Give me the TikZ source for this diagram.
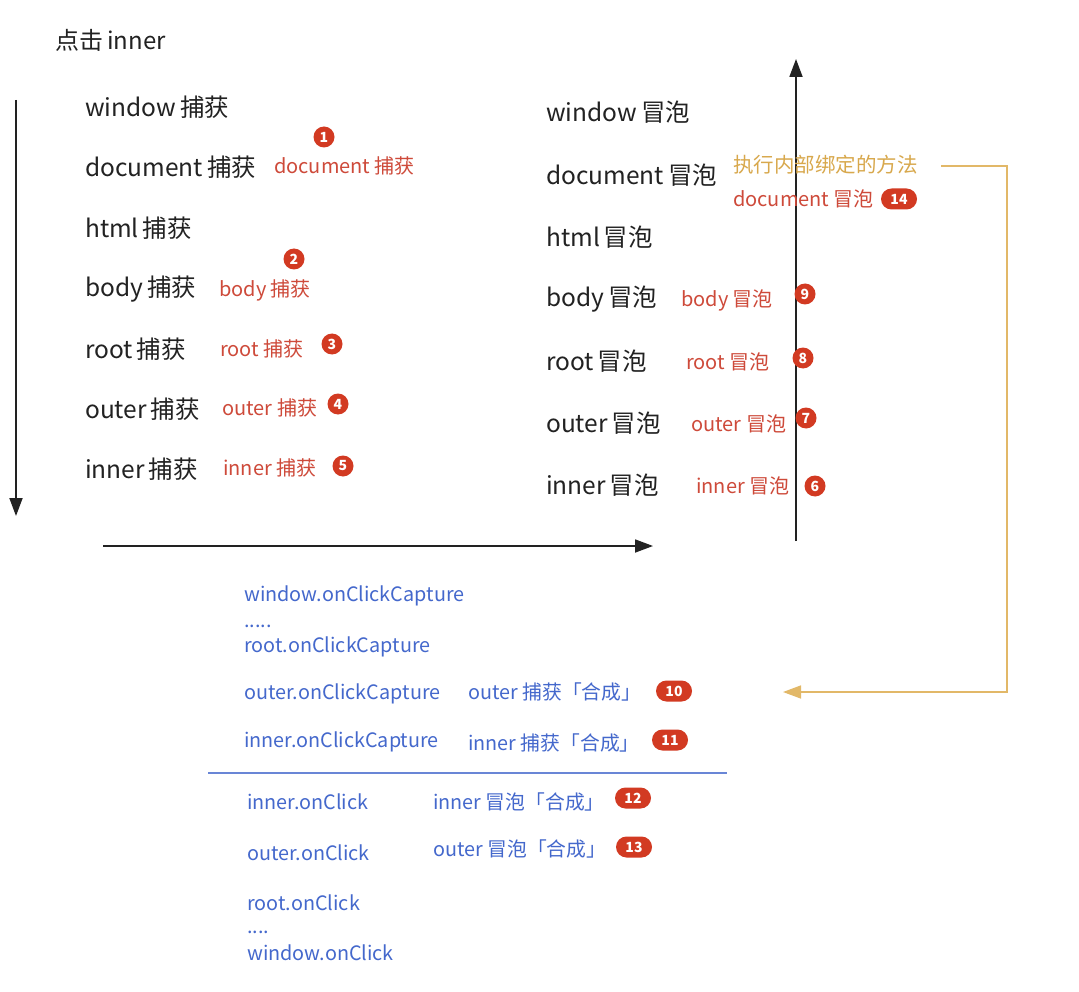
\documentclass[tikz,border=0pt]{standalone}
\usepackage{fontspec}
\setmainfont{Noto Sans CJK SC}
\usetikzlibrary{arrows.meta}
\definecolor{txtblack}{HTML}{222222}
\definecolor{redtxt}{HTML}{CE4A3A}
\definecolor{badgered}{HTML}{D23A22}
\definecolor{bluetxt}{HTML}{4468CC}
\definecolor{goldtxt}{HTML}{D8A84C}
\definecolor{goldline}{HTML}{E2B868}
\newcommand{\gp}{\hspace{4pt}}
\tikzset{
  blk/.style={anchor=west, inner sep=0pt, text=txtblack, font=\fontsize{24.5}{28}\selectfont},
  ttl/.style={anchor=west, inner sep=0pt, text=txtblack, font=\fontsize{24}{28}\selectfont},
  red/.style={anchor=west, inner sep=0pt, text=redtxt, font=\fontsize{20}{24}\selectfont},
  blu/.style={anchor=west, inner sep=0pt, text=bluetxt, font=\fontsize{19.8}{24}\selectfont},
  dots/.style={blu, text height=3pt, text depth=0pt},
  gold/.style={anchor=west, inner sep=0pt, text=goldtxt, font=\fontsize{20.5}{24}\selectfont},
  badge/.style={circle, fill=badgered, text=white, inner sep=0pt, minimum size=21pt, font=\bfseries\fontsize{14}{15}\selectfont},
  pill/.style={rectangle, rounded corners=10.5pt, fill=badgered, text=white, inner sep=0pt, minimum width=36pt, minimum height=21pt, font=\bfseries\fontsize{14}{15}\selectfont},
  axis/.style={draw=txtblack, line width=1.8pt, -{Triangle[length=18pt,width=13pt]}},
  goldarrow/.style={draw=goldline, line width=1.5pt, -{Triangle[length=18pt,width=13pt]}},
  sepline/.style={draw=bluetxt!80, line width=1.5pt}
}
\begin{document}
\begin{tikzpicture}[x=1pt,y=-1pt]
\useasboundingbox[fill=white] (0,0) rectangle (1079,992);
% title
\node[ttl] (title) at (55,40) {点击\gp inner};
% left capture column
\coordinate (lt) at (16,100);
\coordinate (lb) at (16,516);
\draw[axis] (lt) -- (lb);
\node[blk] (cw) at (85,107) {window\gp 捕获};
\node[blk] (cd) at (85,167) {document\gp 捕获};
\node[blk] (ch) at (85,228) {html\gp 捕获};
\node[blk] (cb) at (85,289) {body\gp 捕获};
\node[blk] (cr) at (85,349) {root\gp 捕获};
\node[blk] (co) at (85,409) {outer\gp 捕获};
\node[blk] (ci) at (85,469) {inner\gp 捕获};
\node[red] (rcd) at (274,166) {document 捕获};
\node[red] (rcb) at (219,290) {body 捕获};
\node[red] (rcr) at (220,349) {root 捕获};
\node[red] (rco) at (222,408) {outer 捕获};
\node[red] (rci) at (223,468) {inner 捕获};
\node[badge] (b1) at (324,137) {1};
\node[badge] (b2) at (294,259) {2};
\node[badge] (b3) at (332,344) {3};
\node[badge] (b4) at (338,404) {4};
\node[badge] (b5) at (343,466) {5};
% horizontal arrow
\coordinate (ha) at (103,546);
\coordinate (hb) at (653,546);
\draw[axis] (ha) -- (hb);
% right bubble column
\coordinate (rb) at (796,541);
\coordinate (rt) at (796,59);
\draw[axis] (rb) -- (rt);
\node[blk] (bw) at (546,112) {window\gp 冒泡};
\node[blk] (bd) at (546,175) {document\gp 冒泡};
\node[blk] (bh) at (546,237) {html\gp 冒泡};
\node[blk] (bb) at (546,299) {body\gp 冒泡};
\node[blk] (br) at (546,361) {root\gp 冒泡};
\node[blk] (bo) at (546,423) {outer\gp 冒泡};
\node[blk] (bi) at (546,485) {inner\gp 冒泡};
\node[gold] (exec) at (733,165) {执行内部绑定的方法};
\node[red] (rbd) at (733,199) {document 冒泡};
\node[red] (rbb) at (681,300) {body 冒泡};
\node[red] (rbr) at (686,362) {root 冒泡};
\node[red] (rbo) at (691,424) {outer 冒泡};
\node[red] (rbi) at (696,486) {inner 冒泡};
\node[pill] (b14) at (899,199) {14};
\node[badge] (b9) at (805,294) {9};
\node[badge] (b8) at (803,358) {8};
\node[badge] (b7) at (806,418) {7};
\node[badge] (b6) at (815,486) {6};
% synthetic events
\node[blu] (s1) at (244,596) {window.onClickCapture};
\node[dots] (s2) at (244,626) {.....};
\node[blu] (s3) at (244,647) {root.onClickCapture};
\node[blu] (s4) at (244,694) {outer.onClickCapture};
\node[blu] (s5) at (244,742) {inner.onClickCapture};
\node[blu] (t4) at (468,692) {outer 捕获「合成」};
\node[blu] (t5) at (468,743) {inner 捕获「合成」};
\node[pill] (b10) at (674,691) {10};
\node[pill] (b11) at (670,740) {11};
\coordinate (sl) at (208,773);
\coordinate (sr) at (727,773);
\draw[sepline] (sl) -- (sr);
\node[blu] (u1) at (247,802) {inner.onClick};
\node[blu] (u2) at (247,853) {outer.onClick};
\node[blu] (u3) at (247,903) {root.onClick};
\node[dots] (u4) at (247,932) {....};
\node[blu] (u5) at (247,953) {window.onClick};
\node[blu] (v1) at (433,802) {inner 冒泡「合成」};
\node[blu] (v2) at (433,849) {outer 冒泡「合成」};
\node[pill] (b12) at (633,798) {12};
\node[pill] (b13) at (634,847) {13};
% gold connector
\coordinate (g0) at (941,166);
\coordinate (g1) at (1007,166);
\coordinate (g2) at (1007,692);
\coordinate (g3) at (783,692);
\draw[goldarrow] (g0) -- (g1) -- (g2) -- (g3);
\end{tikzpicture}
\end{document}
